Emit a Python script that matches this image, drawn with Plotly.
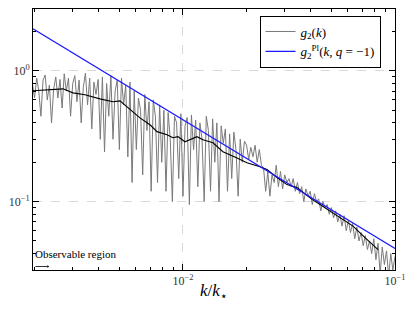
import plotly.graph_objects as go

# ---------------- data ----------------
k_noisy = [
    1.950e-3, 1.995e-3, 2.042e-3, 2.089e-3, 2.138e-3, 2.188e-3, 2.239e-3, 2.291e-3, 2.344e-3, 2.399e-3,
    2.455e-3, 2.512e-3, 2.570e-3, 2.630e-3, 2.692e-3, 2.754e-3, 2.818e-3, 2.884e-3, 2.951e-3, 3.020e-3,
    3.090e-3, 3.162e-3, 3.236e-3, 3.311e-3, 3.388e-3, 3.467e-3, 3.548e-3, 3.631e-3, 3.715e-3, 3.802e-3,
    3.890e-3, 3.981e-3, 4.074e-3, 4.169e-3, 4.266e-3, 4.365e-3, 4.467e-3, 4.571e-3, 4.677e-3, 4.786e-3,
    4.898e-3, 5.012e-3, 5.129e-3, 5.248e-3, 5.370e-3, 5.495e-3, 5.623e-3, 5.754e-3, 5.888e-3, 6.026e-3,
    6.166e-3, 6.310e-3, 6.457e-3, 6.607e-3, 6.761e-3, 6.918e-3, 7.079e-3, 7.244e-3, 7.413e-3, 7.586e-3,
    7.762e-3, 7.943e-3, 8.128e-3, 8.318e-3, 8.511e-3, 8.710e-3, 8.913e-3, 9.120e-3, 9.333e-3, 9.550e-3,
    9.772e-3,
    1.000e-2, 1.023e-2, 1.047e-2, 1.072e-2, 1.096e-2, 1.122e-2, 1.148e-2, 1.175e-2, 1.202e-2, 1.230e-2,
    1.259e-2, 1.288e-2, 1.318e-2, 1.349e-2, 1.380e-2, 1.413e-2, 1.445e-2, 1.479e-2, 1.514e-2, 1.549e-2,
    1.585e-2, 1.622e-2, 1.660e-2, 1.698e-2, 1.738e-2, 1.778e-2, 1.820e-2, 1.862e-2, 1.905e-2, 1.950e-2,
    1.995e-2, 2.042e-2, 2.089e-2, 2.138e-2, 2.188e-2, 2.239e-2, 2.291e-2, 2.344e-2, 2.399e-2, 2.455e-2,
    2.512e-2, 2.570e-2, 2.630e-2, 2.692e-2, 2.754e-2, 2.818e-2, 2.884e-2, 2.951e-2, 3.020e-2, 3.090e-2,
    3.162e-2, 3.236e-2, 3.311e-2, 3.388e-2, 3.467e-2, 3.548e-2, 3.631e-2, 3.715e-2, 3.802e-2, 3.890e-2,
    3.981e-2, 4.074e-2, 4.169e-2, 4.266e-2, 4.365e-2, 4.467e-2, 4.571e-2, 4.677e-2, 4.786e-2, 4.898e-2,
    5.012e-2, 5.129e-2, 5.248e-2, 5.370e-2, 5.495e-2, 5.623e-2, 5.754e-2, 5.888e-2, 6.026e-2, 6.166e-2,
    6.310e-2, 6.457e-2, 6.607e-2, 6.761e-2, 6.918e-2, 7.079e-2, 7.244e-2, 7.413e-2, 7.586e-2, 7.762e-2,
    7.943e-2, 8.128e-2, 8.318e-2, 8.511e-2, 8.710e-2, 8.913e-2, 9.120e-2, 9.333e-2, 9.550e-2, 9.772e-2,
    1.000e-1,
]

g2_noisy = [
    0.80, 0.62, 0.88, 0.70, 0.45, 0.85, 0.93, 0.60, 0.78, 0.40, 0.72, 0.90, 0.62, 0.86, 0.52,
    0.95, 0.70, 0.88, 0.45, 0.80, 0.92, 0.58, 0.85, 0.40, 0.75, 0.96, 0.55, 0.88, 0.36, 0.82,
    0.66, 0.86, 0.30, 0.90,
    0.24, 0.80, 0.45, 0.92, 0.30, 0.70, 0.85, 0.25, 0.88, 0.55, 0.78, 0.22, 0.82, 0.14,
    0.70, 0.25, 0.62, 0.50, 0.16, 0.66, 0.35, 0.58, 0.12, 0.60, 0.45, 0.14, 0.55, 0.20, 0.50,
    0.12, 0.48, 0.30, 0.10, 0.45, 0.40, 0.15, 0.47, 0.11, 0.38, 0.44, 0.095, 0.46, 0.25, 0.42,
    0.13, 0.40, 0.30,
    0.10, 0.45, 0.35, 0.12, 0.43, 0.20, 0.40, 0.10, 0.38, 0.28, 0.36, 0.12, 0.33, 0.15, 0.34,
    0.25, 0.11, 0.30, 0.20, 0.29,
    0.27, 0.21, 0.26, 0.22, 0.27, 0.20, 0.25, 0.19,
    0.18, 0.12, 0.17, 0.11, 0.16, 0.14, 0.19, 0.13, 0.17, 0.125, 0.16, 0.14, 0.15, 0.13,
    0.15, 0.12, 0.14, 0.115, 0.13, 0.10, 0.125, 0.11, 0.12, 0.095, 0.115, 0.10, 0.105, 0.085,
    0.10, 0.09, 0.095, 0.08, 0.09, 0.075,
    0.085, 0.07, 0.08, 0.065, 0.078, 0.06, 0.072, 0.058, 0.068, 0.052, 0.064, 0.05, 0.058,
    0.046, 0.055, 0.043, 0.05, 0.04,
    0.052, 0.036, 0.048, 0.028, 0.045, 0.033, 0.042, 0.027, 0.04, 0.03, 0.038,
]

k_smooth = [
    1.962e-3, 2.234e-3, 2.489e-3, 2.716e-3, 3.027e-3, 3.449e-3, 4.060e-3, 4.675e-3, 5.044e-3,
    5.623e-3, 6.268e-3, 6.988e-3, 7.543e-3, 8.404e-3, 8.970e-3, 9.472e-3, 1.022e-2, 1.164e-2,
    1.243e-2, 1.385e-2, 1.544e-2, 1.798e-2, 2.004e-2, 2.308e-2, 2.490e-2, 2.776e-2, 3.095e-2,
    3.450e-2, 4.060e-2, 4.429e-2, 5.212e-2, 6.338e-2, 7.220e-2, 8.315e-2,
]
g2_smooth = [
    0.704, 0.716, 0.729, 0.729, 0.679, 0.656, 0.611, 0.580, 0.590,
    0.504, 0.437, 0.387, 0.343, 0.325, 0.308, 0.314, 0.287, 0.314,
    0.297, 0.282, 0.241, 0.216, 0.198, 0.185, 0.176, 0.153, 0.135,
    0.128, 0.104, 0.095, 0.080, 0.065, 0.053, 0.043,
]

k_powerlaw = [1.962e-3, 1.0e-1]
g2_powerlaw = [2.10, 0.0438]

x_tick_vals = [1e-2, 1e-1]
x_tick_text = ["10<sup>−2</sup>", "10<sup>−1</sup>"]
y_tick_vals = [1e-1, 1e0]
y_tick_text = ["10<sup>−1</sup>", "10<sup>0</sup>"]
x_minor_vals = [2e-3, 3e-3, 4e-3, 5e-3, 6e-3, 7e-3, 8e-3, 9e-3,
                2e-2, 3e-2, 4e-2, 5e-2, 6e-2, 7e-2, 8e-2, 9e-2]
y_minor_vals = [3e-2, 4e-2, 5e-2, 6e-2, 7e-2, 8e-2, 9e-2,
                2e-1, 3e-1, 4e-1, 5e-1, 6e-1, 7e-1, 8e-1, 9e-1, 2.0]

# ---------------- figure ----------------
FONT = "Liberation Serif"

fig = go.Figure()
fig.add_trace(go.Scatter(
    x=k_noisy, y=g2_noisy, mode="lines",
    line=dict(color="#7a7a7a", width=1),
    name="<i>g</i><sub>2</sub>(<i>k</i>)",
))
fig.add_trace(go.Scatter(
    x=k_smooth, y=g2_smooth, mode="lines",
    line=dict(color="black", width=1.1),
    showlegend=False,
))
fig.add_trace(go.Scatter(
    x=k_powerlaw, y=g2_powerlaw, mode="lines",
    line=dict(color="#1a1aff", width=1.2),
    name="<i>g</i><sub>2</sub><sup>Pl</sup>(<i>k</i>, <i>q</i> = −1)",
))

axis_common = dict(
    type="log",
    automargin=False,
    showline=True, linecolor="black", linewidth=1,
    mirror="allticks",
    ticks="inside", ticklen=6, tickwidth=1, tickcolor="black",
    tickmode="array",
    showgrid=True, gridcolor="#d9d9d9", griddash="dash", gridwidth=1,
    zeroline=False,
    tickfont=dict(family=FONT, size=12, color="#333"),
)

fig.update_xaxes(
    **axis_common,
    range=[-2.7073, -1.0],
    tickvals=x_tick_vals, ticktext=x_tick_text,
    minor=dict(tickvals=x_minor_vals, ticks="inside", ticklen=3,
               tickcolor="black", showgrid=False),
)
fig.update_yaxes(
    **axis_common,
    range=[-1.523, 0.4733],
    tickvals=y_tick_vals, ticktext=y_tick_text,
    minor=dict(tickvals=y_minor_vals, ticks="inside", ticklen=3,
               tickcolor="black", showgrid=False),
)

# x-axis title
fig.add_annotation(
    xref="paper", yref="paper", x=0.5, y=-0.086,
    xanchor="center", yanchor="middle",
    text="<i>k</i>/<i>k</i><sub>⋆</sub>", showarrow=False,
    font=dict(family=FONT, size=17, color="black"),
)

fig.add_annotation(
    xref="paper", yref="paper", x=0.0, y=0.03,
    xanchor="left", yanchor="bottom",
    text="Observable region", showarrow=False,
    font=dict(family=FONT, size=11, color="black"),
)
fig.add_annotation(
    xref="paper", yref="paper", x=0.044, y=0.0134,
    ax=-15, ay=0, text="", showarrow=True,
    arrowhead=1, arrowsize=0.6, arrowwidth=0.8, arrowcolor="black",
)

fig.update_layout(
    width=415, height=312,
    margin=dict(l=33, r=20, t=9, b=41.5),
    paper_bgcolor="white", plot_bgcolor="white",
    font=dict(family=FONT, color="black"),
    showlegend=True,
    legend=dict(
        x=0.96, y=0.975, xanchor="right", yanchor="top",
        bgcolor="white", bordercolor="black", borderwidth=1,
        font=dict(family=FONT, size=13, color="black"),
        tracegroupgap=0, itemwidth=30,
    ),
)

fig.write_html(
    "out.html",
    config={"displayModeBar": False},
    post_script="document.body.style.margin='0';document.body.style.overflow='hidden';",
)
